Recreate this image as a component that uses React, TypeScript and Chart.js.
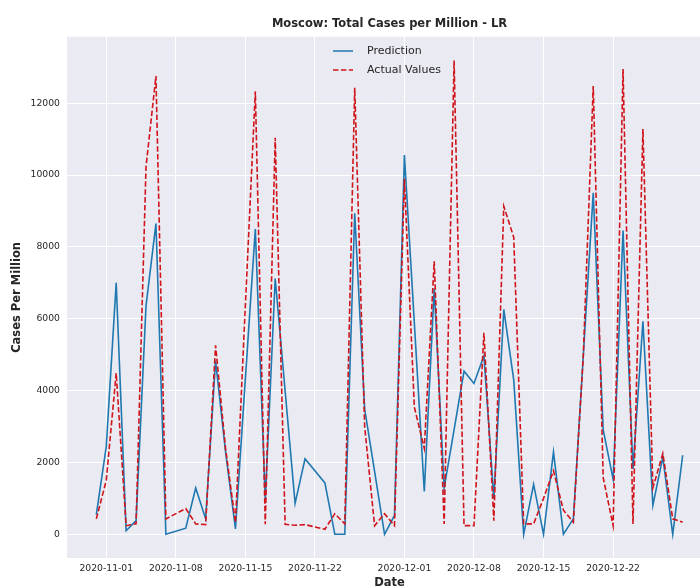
import React, { useEffect, useRef } from "react";
import { Chart, registerables } from "chart.js";

Chart.register(...registerables);

const dates: string[] = [
  "2020-10-31", "2020-11-01", "2020-11-02", "2020-11-03", "2020-11-04", "2020-11-05", "2020-11-06", "2020-11-07",
  "2020-11-09", "2020-11-10", "2020-11-11", "2020-11-12", "2020-11-13", "2020-11-14", "2020-11-15", "2020-11-16",
  "2020-11-17", "2020-11-18", "2020-11-19", "2020-11-20", "2020-11-21", "2020-11-23", "2020-11-24", "2020-11-25",
  "2020-11-26", "2020-11-27", "2020-11-28", "2020-11-29", "2020-11-30", "2020-12-01", "2020-12-02", "2020-12-03",
  "2020-12-04", "2020-12-05", "2020-12-06", "2020-12-07", "2020-12-08", "2020-12-09", "2020-12-10", "2020-12-11",
  "2020-12-12", "2020-12-13", "2020-12-14", "2020-12-15", "2020-12-16", "2020-12-17", "2020-12-18", "2020-12-19",
  "2020-12-20", "2020-12-21", "2020-12-22", "2020-12-23", "2020-12-24", "2020-12-25", "2020-12-26", "2020-12-27",
  "2020-12-28", "2020-12-29",
];

const prediction: number[] = [
  550, 2440, 7000, 100, 380, 6360, 8650, 0,
  170, 1290, 430, 4830, 2300, 150, 4340, 8500,
  950, 7120, 3990, 860, 2100, 1430, 0, 0,
  8940, 3490, 1750, 0, 525, 10560, 5880, 1195,
  6840, 1290, 2915, 4540, 4200, 4970, 1000, 6260,
  4300, 0, 1390, 0, 2290, 0, 430, 4970,
  9510, 2915, 1530, 8460, 1816, 5930, 810, 2150,
  0, 2200,
];

const actual: number[] = [
  430, 1500, 4490, 240, 290, 10230, 12760, 430,
  717, 290, 270, 5260, 2400, 330, 6390, 12330,
  280, 11040, 280, 250, 270, 140, 574, 290,
  12430, 3000, 240, 574, 240, 9900, 3540, 2390,
  7600, 290, 13190, 240, 240, 5610, 380, 9130,
  8270, 290, 290, 1000, 1770, 670, 335, 4970,
  12480, 1580, 240, 12950, 290, 11280, 1290, 2250,
  430, 335,
];

const xTickLabels: string[] = [
  "2020-11-01", "2020-11-08", "2020-11-15", "2020-11-22",
  "2020-12-01", "2020-12-08", "2020-12-15", "2020-12-22",
];
const yTickValues: number[] = [0, 2000, 4000, 6000, 8000, 10000, 12000];

const TITLE = "Moscow: Total Cases per Million - LR";
const SERIES_NAMES = ["Prediction", "Actual Values"];
const BLUE = "#1f78b0";
const RED = "#d0141a";
const FONT = "'DejaVu Sans', sans-serif";
const TEXT = "#262626";

const EPOCH = Date.parse("2020-11-01T00:00:00Z");
const dayOf = (d: string) => (Date.parse(d + "T00:00:00Z") - EPOCH) / 86400000;

export default function App() {
  const ref = useRef<HTMLCanvasElement | null>(null);

  useEffect(() => {
    document.body.style.margin = "0";
    const canvas = ref.current;
    if (!canvas) return;

    const bgPlugin = {
      id: "bgArea",
      beforeDraw(chart: any) {
        const { ctx, chartArea } = chart;
        ctx.save();
        ctx.fillStyle = "#EAEAF2";
        ctx.fillRect(chartArea.left, chartArea.top, chartArea.right - chartArea.left, chartArea.bottom - chartArea.top);
        ctx.restore();
      },
    };

    const legendPlugin = {
      id: "mplLegend",
      afterDraw(chart: any) {
        const { ctx } = chart;
        ctx.save();
        const x0 = 333, x1 = 353, tx = 367;
        const rows = [
          { y: 51, color: BLUE, dash: [] as number[] },
          { y: 70, color: RED, dash: [5.5, 2.4] },
        ];
        rows.forEach((r, i) => {
          ctx.beginPath();
          ctx.setLineDash(r.dash);
          ctx.strokeStyle = r.color;
          ctx.lineWidth = 1.5;
          ctx.moveTo(x0, r.y);
          ctx.lineTo(x1, r.y);
          ctx.stroke();
          ctx.setLineDash([]);
          ctx.fillStyle = TEXT;
          ctx.font = `11px ${FONT}`;
          ctx.textBaseline = "middle";
          ctx.textAlign = "left";
          ctx.fillText(SERIES_NAMES[i], tx, r.y);
        });
        ctx.restore();
      },
    };

    const xs = dates.map(dayOf);
    const xTickVals = xTickLabels.map(dayOf);

    const chart = new Chart(canvas, {
      type: "line",
      data: {
        datasets: [
          {
            label: SERIES_NAMES[0],
            data: xs.map((x, i) => ({ x, y: prediction[i] })),
            borderColor: BLUE,
            backgroundColor: BLUE,
            borderWidth: 1.6,
            pointRadius: 0,
            tension: 0,
            order: 1,
          },
          {
            label: SERIES_NAMES[1],
            data: xs.map((x, i) => ({ x, y: actual[i] })),
            borderColor: RED,
            backgroundColor: RED,
            borderWidth: 1.6,
            borderDash: [5.5, 2.4],
            pointRadius: 0,
            tension: 0,
            order: 0,
          },
        ],
      },
      options: {
        responsive: false,
        animation: false,
        devicePixelRatio: 1,
        layout: { padding: { left: 0, right: 8, top: 0, bottom: 0 } },
        plugins: {
          legend: { display: false },
          tooltip: { enabled: false },
          title: {
            display: true,
            text: TITLE,
            fullSize: false,
            color: TEXT,
            font: { family: FONT, size: 11.5, weight: "bold" },
            padding: { top: 17, bottom: 6 },
          },
        },
        scales: {
          x: {
            type: "linear",
            min: -3.95,
            max: 60.95,
            border: { display: false },
            grid: { color: "#ffffff", lineWidth: 1, drawTicks: false },
            afterBuildTicks: (scale: any) => {
              scale.ticks = xTickVals.map((v) => ({ value: v }));
            },
            afterFit: (scale: any) => {
              scale.height = 42;
            },
            ticks: {
              padding: 5,
              autoSkip: false,
              maxRotation: 0,
              color: TEXT,
              font: { family: FONT, size: 9.25 },
              callback: (v: any) => {
                const idx = xTickVals.findIndex((t) => Math.abs(t - Number(v)) < 1e-6);
                return idx >= 0 ? xTickLabels[idx] : "";
              },
            },
            title: {
              display: true,
              text: "Date",
              color: TEXT,
              font: { family: FONT, size: 11.5, weight: "bold" },
              padding: { top: 0, bottom: 10 },
            },
          },
          y: {
            type: "linear",
            min: -660,
            max: 13850,
            border: { display: false },
            grid: { color: "#ffffff", lineWidth: 1, drawTicks: false },
            afterBuildTicks: (scale: any) => {
              scale.ticks = yTickValues.map((v) => ({ value: v }));
            },
            afterFit: (scale: any) => {
              scale.width = 67;
            },
            ticks: {
              padding: 7,
              color: TEXT,
              font: { family: FONT, size: 9.25 },
              callback: (v: any) => String(v),
            },
            title: {
              display: true,
              text: "Cases Per Million",
              color: TEXT,
              font: { family: FONT, size: 11.5, weight: "bold" },
              padding: { top: 10, bottom: 0 },
            },
          },
        },
      },
      plugins: [bgPlugin, legendPlugin],
    } as any);

    return () => chart.destroy();
  }, []);

  return (
    <div style={{ position: "relative", width: 700, height: 588, overflow: "hidden", background: "#ffffff" }}>
      <canvas ref={ref} width={720} height={600} style={{ display: "block", width: 720, height: 600 }} />
    </div>
  );
}
